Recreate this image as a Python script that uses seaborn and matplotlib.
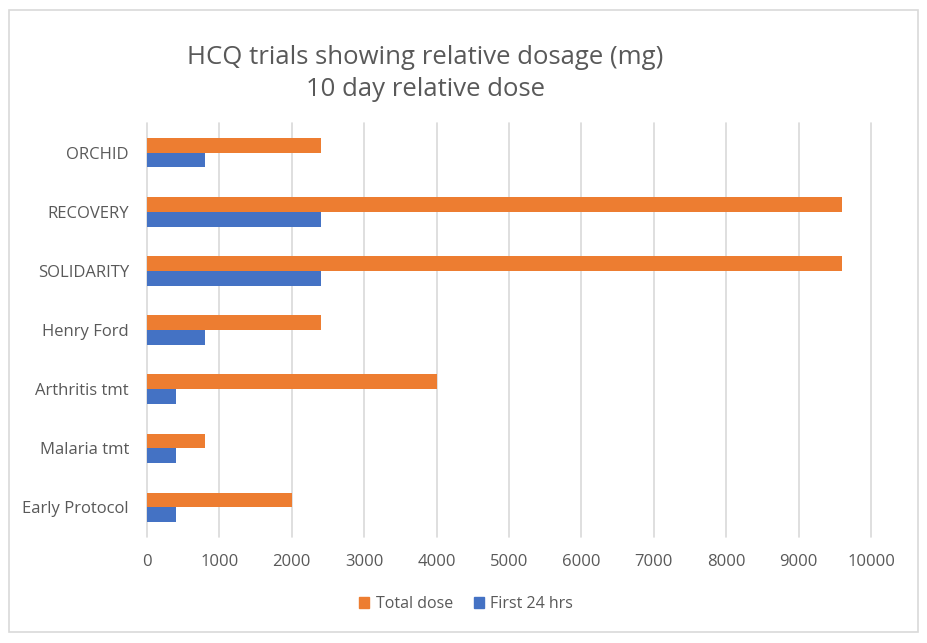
import matplotlib
matplotlib.use("Agg")
import matplotlib.pyplot as plt
import seaborn as sns
import pandas as pd
from matplotlib.patches import Rectangle

categories = ["ORCHID", "RECOVERY", "SOLIDARITY", "Henry Ford", "Arthritis tmt", "Malaria tmt", "Early Protocol"]
total_dose = [2400, 9600, 9600, 2400, 4000, 800, 2000]
first_24 = [800, 2400, 2400, 800, 400, 400, 400]
series = ["Total dose", "First 24 hrs"]
xticks = [0, 1000, 2000, 3000, 4000, 5000, 6000, 7000, 8000, 9000, 10000]

df = pd.DataFrame({
    "trial": categories * 2,
    "dose": total_dose + first_24,
    "series": [series[0]] * len(categories) + [series[1]] * len(categories),
})

sns.set_theme(style="white")
plt.rcParams["font.family"] = ["Open Sans", "DejaVu Sans"]

fig = plt.figure(figsize=(9.27, 6.43), dpi=100)
ax = fig.add_axes([147/927, 1-537/643, (871-147)/927, (537-123)/643])

palette = {"Total dose": "#ED7D31", "First 24 hrs": "#4472C4"}
sns.barplot(data=df, y="trial", x="dose", hue="series", order=categories,
            hue_order=series, palette=palette, orient="h", width=0.5,
            saturation=1, ax=ax, legend=False, errorbar=None, linewidth=0)

ax.set_xlim(0, 10000)
ax.set_ylim(6.5, -0.5)
ax.set_xticks(xticks)
ax.set_xticklabels([str(t) for t in xticks])
ax.xaxis.grid(True, color="#D9D9D9", linewidth=1.2)
for gl in ax.get_xgridlines():
    gl.set_clip_on(False)
ax.set_axisbelow(True)
for s in ax.spines.values():
    s.set_visible(False)
ax.set_xlabel("")
ax.set_ylabel("")
ax.tick_params(axis="both", length=0, labelsize=12, colors="#595959")
ax.tick_params(axis="y", pad=13)
ax.tick_params(axis="x", pad=12)

fig.text(425/927, 1-58/643, "HCQ trials showing relative dosage (mg)", ha="center", va="center",
         fontsize=18.5, color="#595959")
fig.text(425/927, 1-90/643, "10 day relative dose", ha="center", va="center",
         fontsize=18.5, color="#595959")

handles = [Rectangle((0, 0), 1, 1, color=palette[s]) for s in series]
fig.legend(handles, series, loc="center", bbox_to_anchor=(466/927, 1-604/643), ncol=2,
           frameon=False, fontsize=11.5, labelcolor="#595959", handlelength=0.65, handleheight=0.65,
           handletextpad=0.4, columnspacing=1.3)

border = Rectangle((9/927, 1-632/643), (918-9)/927, (632-10)/643, transform=fig.transFigure,
                   fill=False, edgecolor="#D9D9D9", linewidth=1.2)
fig.patches.append(border)

fig.savefig("out.png", dpi=100, facecolor="white")
